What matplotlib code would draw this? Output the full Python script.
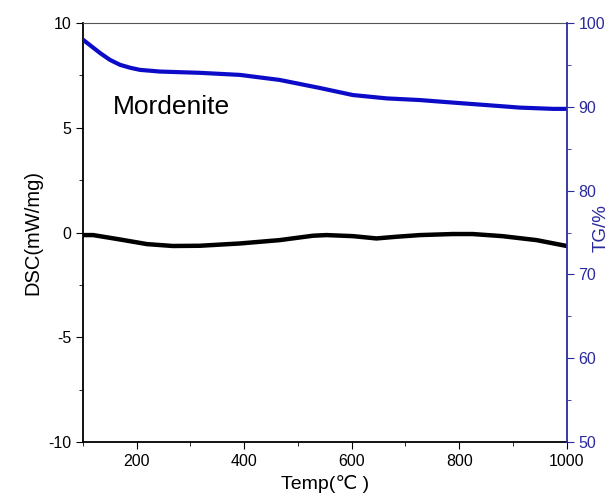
import numpy as np
import matplotlib.pyplot as plt
from matplotlib.ticker import MultipleLocator

plt.rcParams['font.family'] = ['Liberation Sans', 'DejaVu Sans']
plt.rcParams['axes.unicode_minus'] = False

# DSC curve (mW/mg) vs temperature
temp_dsc = [100, 119, 169, 219, 267, 317, 392, 466, 528, 553, 602, 646, 683, 727, 788, 825, 880, 944, 1000]
dsc = [-0.12, -0.12, -0.33, -0.55, -0.64, -0.63, -0.52, -0.36, -0.15, -0.12, -0.17, -0.28, -0.2, -0.12, -0.07, -0.07, -0.17, -0.36, -0.64]

# TG curve (%) vs temperature
temp_tg = [100, 116, 132, 150, 169, 188, 206, 243, 317, 392, 466, 540, 602, 665, 727, 788, 851, 913, 975, 1000]
tg = [98.0, 97.2, 96.4, 95.6, 95.0, 94.65, 94.4, 94.2, 94.05, 93.8, 93.2, 92.25, 91.4, 91.0, 90.8, 90.5, 90.2, 89.9, 89.75, 89.75]

fig, ax = plt.subplots(figsize=(6.1, 4.98), dpi=100)
fig.subplots_adjust(left=0.136, right=0.929, top=0.954, bottom=0.112)

ax.plot(temp_dsc, dsc, color='black', lw=3.2, solid_capstyle='round', solid_joinstyle='round')
ax.set_xlim(100, 1000)
ax.set_ylim(-10, 10)
ax.xaxis.set_major_locator(MultipleLocator(200))
ax.xaxis.set_minor_locator(MultipleLocator(100))
ax.yaxis.set_major_locator(MultipleLocator(5))
ax.yaxis.set_minor_locator(MultipleLocator(2.5))
ax.tick_params(which='both', direction='out', labelsize=11.5)
ax.tick_params(which='major', length=5)
ax.tick_params(which='minor', length=3)
ax.set_xlabel('Temp(℃ )', fontsize=14, labelpad=4)
ax.set_ylabel('DSC(mW/mg)', fontsize=14.5, labelpad=4)
ax.text(156, 6.0, 'Mordenite', fontsize=19, va='center', ha='left')
for s in ['left', 'bottom']:
    ax.spines[s].set_linewidth(1.3)
ax.spines['top'].set_color('#555555')
ax.spines['right'].set_visible(False)

ax2 = ax.twinx()
ax2.plot(temp_tg, tg, color='#0c0cc8', lw=3.0, solid_joinstyle='round')
ax2.set_ylim(50, 100)
ax2.yaxis.set_major_locator(MultipleLocator(10))
ax2.yaxis.set_minor_locator(MultipleLocator(5))
ax2.tick_params(which='both', direction='out', colors='#2a2aa0', labelsize=11.5)
ax2.tick_params(which='major', length=5)
ax2.tick_params(which='minor', length=3)
ax2.spines['right'].set_color('#2a2aa0')
ax2.spines['right'].set_linewidth(1.3)
for s in ['left', 'top', 'bottom']:
    ax2.spines[s].set_visible(False)

# right axis title sits between the 70 and 80 tick labels
fig.text(0.986, 0.542, 'TG/%', rotation=90, ha='center', va='center',
         fontsize=13.5, color='#2a2aa0')

plt.savefig('out.png', dpi=100)
